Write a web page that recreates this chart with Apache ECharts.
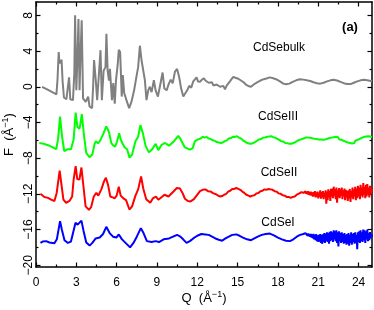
<!DOCTYPE html>
<html><head><meta charset="utf-8">
<script src="https://cdn.jsdelivr.net/npm/echarts@6/dist/echarts.min.js"></script>
<style>html,body{margin:0;padding:0;background:#fff}#c{width:374px;height:310px}</style>
</head><body><div id="c"></div>
<script>
const xMajorTicks = [0,3,6,9,12,15,18,21,24];
const xMinorTicks = [1.5,4.5,7.5,10.5,13.5,16.5,19.5,22.5];
const yMajorTicks = [-20,-16,-12,-8,-4,0,4,8];
const yMinorTicks = [-18,-14,-10,-6,-2,2,6];
const seriesNames = ['CdSebulk','CdSeIII','CdSeII','CdSeI'];
const seriesColors = ['#808080','#00ff00','#ff0000','#0000ff'];

const cdSeBulk = [[0.45,0.0],[0.9,-0.35],[1.52,-0.85],[1.6,0.8],[1.69,3.9],[1.74,2.6],[1.8,3.0],[1.85,2.6],[1.9,3.05],[1.98,0.6],[2.08,-1.2],[2.26,-1.4],[2.46,1.05],[2.55,-1.4],[2.75,-1.5],[2.85,1.5],[2.91,8.0],[3.0,-0.4],[3.08,3.0],[3.16,7.6],[3.24,-0.4],[3.3,3.0],[3.4,7.45],[3.5,-1.3],[3.7,-1.7],[3.88,-1.1],[3.98,-2.2],[4.17,-2.4],[4.25,0.0],[4.32,3.0],[4.45,0.7],[4.55,-1.5],[4.65,0.7],[4.8,4.1],[4.9,-1.5],[5.03,1.8],[5.17,2.2],[5.24,5.95],[5.33,1.8],[5.43,0.7],[5.5,2.0],[5.65,-1.5],[5.75,0.4],[5.86,-1.9],[5.95,0.7],[6.08,2.5],[6.16,4.15],[6.26,3.9],[6.38,-1.1],[6.46,1.3],[6.56,-0.7],[6.73,-1.5],[6.93,-2.4],[7.1,-1.7],[7.3,-0.4],[7.47,1.1],[7.6,2.2],[7.73,4.6],[7.85,3.0],[7.98,2.8],[8.1,0.75],[8.22,-1.5],[8.35,-0.4],[8.47,0.0],[8.6,-0.6],[8.77,0.75],[8.9,-0.4],[9.07,-1.1],[9.24,0.2],[9.42,1.6],[9.55,-0.2],[9.72,-0.4],[9.85,0.2],[10.02,0.8],[10.17,0.4],[10.34,1.7],[10.5,2.0],[10.65,1.1],[10.8,-0.2],[10.96,-1.1],[11.1,-0.9],[11.25,-0.4],[11.4,0.1],[11.55,-0.1],[11.7,0.6],[11.83,0.75],[11.95,1.05],[12.05,0.6],[12.2,0.56],[12.35,0.8],[12.5,0.95],[12.6,0.7],[12.72,0.85],[12.85,0.45],[12.97,0.37],[13.1,0.5],[13.19,0.15],[13.3,0.3],[13.44,0.25],[13.55,0.35],[13.69,0.0],[13.8,0.2],[13.94,0.1],[14.06,-0.3],[14.2,0.15],[14.3,0.3],[14.43,0.6],[14.55,0.85],[14.68,1.1],[14.8,0.95],[15.05,0.9],[15.25,0.7],[15.45,0.5],[15.65,0.2],[15.85,0.05],[16.0,0.0],[16.2,0.25],[16.45,0.5],[16.7,0.7],[16.95,0.85],[17.2,0.95],[17.4,1.05],[17.65,0.95],[17.9,0.82],[18.15,0.6],[18.4,0.35],[18.6,0.28],[18.85,0.35],[19.1,0.55],[19.4,0.75],[19.65,0.85],[19.9,0.8],[20.15,0.72],[20.4,0.65],[20.65,0.5],[20.9,0.4],[21.15,0.35],[21.4,0.45],[21.65,0.6],[21.9,0.72],[22.15,0.78],[22.4,0.7],[22.65,0.55],[22.9,0.4],[23.15,0.3],[23.4,0.3],[23.65,0.45],[23.9,0.6],[24.15,0.72],[24.4,0.78],[24.65,0.72],[24.9,0.65],[25.0,0.65]];

const cdSeIII = [[0.25,-6.3],[0.6,-6.4],[0.9,-6.55],[1.25,-6.8],[1.5,-7.0],[1.64,-5.9],[1.79,-3.35],[1.94,-5.6],[2.1,-7.2],[2.37,-7.0],[2.6,-7.0],[2.8,-5.9],[2.95,-2.9],[3.08,-4.5],[3.23,-4.7],[3.3,-4.2],[3.41,-3.05],[3.58,-5.6],[3.74,-7.4],[3.98,-7.9],[4.19,-7.6],[4.36,-6.4],[4.46,-6.1],[4.61,-6.35],[4.75,-6.1],[4.86,-5.9],[5.0,-5.3],[5.11,-4.9],[5.22,-4.45],[5.35,-4.8],[5.45,-5.2],[5.6,-6.3],[5.72,-6.55],[5.88,-6.7],[6.02,-6.2],[6.19,-5.2],[6.3,-5.9],[6.42,-6.3],[6.6,-6.8],[6.78,-7.0],[6.96,-7.95],[7.15,-7.6],[7.4,-6.1],[7.6,-5.6],[7.77,-4.3],[7.95,-5.2],[8.15,-6.6],[8.4,-7.35],[8.65,-7.0],[8.9,-6.4],[9.1,-7.1],[9.35,-6.5],[9.6,-6.3],[9.9,-6.6],[10.27,-6.1],[10.58,-5.5],[10.71,-5.75],[10.9,-6.3],[11.08,-6.8],[11.45,-7.05],[11.65,-6.9],[11.83,-6.1],[12.05,-5.9],[12.25,-5.8],[12.4,-5.6],[12.55,-5.7],[12.7,-5.62],[12.85,-5.8],[13.0,-5.85],[13.15,-6.0],[13.3,-6.05],[13.45,-6.2],[13.6,-6.25],[13.75,-6.3],[13.9,-6.25],[14.05,-6.1],[14.2,-6.0],[14.35,-5.8],[14.5,-5.75],[14.65,-5.6],[14.8,-5.62],[14.95,-5.55],[15.1,-5.7],[15.25,-5.8],[15.4,-6.0],[15.55,-6.15],[15.7,-6.3],[15.85,-6.35],[16.0,-6.4],[16.15,-6.3],[16.3,-6.2],[16.45,-6.05],[16.6,-5.9],[16.75,-5.85],[16.9,-5.7],[17.05,-5.68],[17.2,-5.6],[17.35,-5.58],[17.5,-5.55],[17.65,-5.65],[17.8,-5.7],[17.95,-5.85],[18.1,-5.95],[18.25,-6.1],[18.4,-6.15],[18.55,-6.3],[18.7,-6.32],[18.85,-6.4],[19.0,-6.38],[19.15,-6.3],[19.3,-6.2],[19.45,-6.05],[19.6,-5.95],[19.75,-5.88],[19.9,-5.8],[20.0,-5.8],[20.08,-5.7],[20.16,-5.85],[20.24,-5.7],[20.32,-5.82],[20.4,-5.72],[20.48,-5.9],[20.56,-5.78],[20.64,-5.95],[20.72,-5.82],[20.8,-6.0],[20.88,-5.85],[20.96,-6.05],[21.04,-5.9],[21.12,-6.1],[21.2,-5.92],[21.28,-6.12],[21.36,-5.95],[21.44,-6.15],[21.52,-5.9],[21.6,-6.05],[21.68,-5.82],[21.76,-6.0],[21.84,-5.75],[21.92,-5.95],[22.0,-5.7],[22.08,-5.9],[22.16,-5.65],[22.24,-5.85],[22.32,-5.6],[22.4,-5.82],[22.48,-5.65],[22.56,-5.9],[22.64,-5.7],[22.72,-5.95],[22.8,-5.8],[22.88,-6.05],[22.96,-5.9],[23.04,-6.15],[23.12,-6.0],[23.2,-6.25],[23.28,-6.1],[23.36,-6.3],[23.44,-6.15],[23.52,-6.35],[23.6,-6.15],[23.68,-6.3],[23.76,-6.05],[23.84,-6.2],[23.92,-5.95],[24.0,-6.1],[24.08,-5.85],[24.16,-5.95],[24.24,-5.72],[24.32,-5.85],[24.4,-5.62],[24.48,-5.78],[24.56,-5.58],[24.64,-5.72],[24.72,-5.55],[24.8,-5.7],[24.88,-5.58],[24.96,-5.68],[25.0,-5.62]];

const cdSeII = [[0.33,-12.0],[0.62,-12.35],[0.9,-12.45],[1.12,-12.65],[1.37,-12.8],[1.54,-11.9],[1.76,-9.4],[1.88,-10.8],[2.04,-12.65],[2.24,-13.0],[2.49,-12.8],[2.69,-12.3],[2.8,-10.4],[2.95,-8.9],[3.07,-10.35],[3.23,-10.4],[3.38,-9.05],[3.53,-11.15],[3.69,-13.4],[3.94,-13.8],[4.1,-13.5],[4.3,-12.3],[4.49,-11.9],[4.64,-12.2],[4.86,-11.5],[5.06,-10.6],[5.2,-10.2],[5.36,-11.0],[5.53,-12.3],[5.7,-12.4],[5.86,-12.5],[6.0,-12.2],[6.16,-11.2],[6.3,-12.2],[6.5,-12.5],[6.7,-12.7],[6.95,-13.76],[7.15,-13.4],[7.4,-12.2],[7.6,-11.5],[7.82,-10.05],[7.98,-11.4],[8.2,-12.6],[8.5,-13.0],[8.7,-12.5],[8.92,-12.3],[9.1,-12.66],[9.36,-12.36],[9.56,-12.1],[9.86,-12.3],[10.23,-11.73],[10.48,-11.35],[10.71,-11.4],[10.9,-11.9],[11.08,-12.55],[11.3,-12.8],[11.5,-12.85],[11.75,-12.6],[11.95,-12.2],[12.2,-11.7],[12.4,-11.55],[12.6,-11.5],[12.8,-11.7],[13.0,-11.75],[13.2,-11.95],[13.4,-12.05],[13.55,-12.2],[13.7,-12.3],[13.85,-12.25],[14.0,-12.1],[14.15,-12.0],[14.3,-11.75],[14.45,-11.65],[14.6,-11.45],[14.75,-11.45],[14.9,-11.35],[15.05,-11.45],[15.2,-11.55],[15.35,-11.75],[15.5,-11.9],[15.65,-12.1],[15.8,-12.2],[15.95,-12.3],[16.1,-12.2],[16.25,-12.15],[16.4,-11.95],[16.55,-11.9],[16.7,-11.7],[16.85,-11.65],[17.0,-11.5],[17.15,-11.55],[17.3,-11.45],[17.45,-11.5],[17.6,-11.55],[17.75,-11.7],[17.9,-11.75],[18.05,-11.95],[18.2,-12.0],[18.35,-12.15],[18.5,-12.2],[18.65,-12.35],[18.8,-12.35],[18.95,-12.45],[19.1,-12.35],[19.25,-12.3],[19.4,-12.1],[19.5,-12.05],[19.6,-11.95],[19.65,-11.85],[19.7,-11.95],[19.75,-11.8],[19.8,-11.95],[19.85,-11.75],[19.9,-11.9],[19.95,-11.7],[20.0,-11.95],[20.05,-11.7],[20.1,-12.0],[20.15,-11.75],[20.2,-12.05],[20.25,-11.7],[20.3,-12.1],[20.35,-11.8],[20.4,-12.15],[20.45,-11.75],[20.5,-12.2],[20.55,-11.85],[20.6,-12.3],[20.65,-11.8],[20.7,-12.25],[20.75,-11.7],[20.8,-12.4],[20.85,-11.85],[20.9,-12.3],[20.95,-11.75],[21.0,-12.5],[21.05,-11.9],[21.1,-12.35],[21.15,-11.6],[21.2,-12.55],[21.25,-11.8],[21.3,-12.4],[21.35,-11.7],[21.4,-12.6],[21.45,-11.9],[21.5,-12.3],[21.55,-11.6],[21.6,-13.1],[21.65,-11.75],[21.7,-12.7],[21.75,-11.5],[21.8,-12.4],[21.85,-11.7],[21.9,-12.8],[21.95,-11.45],[22.0,-12.3],[22.05,-11.4],[22.1,-12.5],[22.15,-11.2],[22.2,-12.2],[22.25,-11.5],[22.3,-12.6],[22.35,-11.3],[22.4,-13.0],[22.45,-11.6],[22.5,-12.4],[22.55,-11.35],[22.6,-12.5],[22.65,-11.5],[22.7,-12.2],[22.75,-11.3],[22.8,-12.6],[22.85,-11.6],[22.9,-12.3],[22.95,-11.4],[23.0,-12.7],[23.05,-11.55],[23.1,-12.4],[23.15,-11.7],[23.2,-12.8],[23.25,-11.6],[23.3,-12.5],[23.35,-11.45],[23.4,-12.9],[23.45,-11.7],[23.5,-12.4],[23.55,-11.3],[23.6,-12.6],[23.65,-11.5],[23.7,-12.3],[23.75,-11.2],[23.8,-12.7],[23.85,-11.4],[23.9,-12.5],[23.95,-11.1],[24.0,-12.3],[24.05,-11.3],[24.1,-12.6],[24.15,-11.0],[24.2,-12.2],[24.25,-11.3],[24.3,-12.4],[24.35,-10.8],[24.4,-12.1],[24.45,-11.2],[24.5,-12.5],[24.55,-11.0],[24.6,-12.3],[24.65,-10.9],[24.7,-12.0],[24.75,-11.3],[24.8,-12.4],[24.85,-11.1],[24.9,-12.1],[24.95,-11.4],[25.0,-11.8]];

const cdSeI = [[0.33,-17.5],[0.5,-17.35],[0.75,-17.3],[1.0,-17.45],[1.37,-17.55],[1.55,-17.1],[1.79,-15.06],[1.92,-16.0],[2.12,-17.2],[2.37,-17.5],[2.6,-17.35],[2.8,-16.1],[2.94,-15.25],[3.1,-15.45],[3.23,-15.3],[3.38,-15.0],[3.53,-16.1],[3.74,-17.45],[3.99,-17.8],[4.19,-17.5],[4.44,-17.0],[4.74,-16.9],[4.99,-16.5],[5.23,-15.7],[5.48,-16.4],[5.73,-16.8],[5.98,-16.9],[6.16,-16.55],[6.4,-17.1],[6.7,-17.55],[7.0,-18.0],[7.25,-17.5],[7.5,-16.8],[7.8,-15.85],[8.0,-16.4],[8.25,-17.3],[8.6,-17.4],[8.9,-17.3],[9.15,-17.4],[9.5,-17.1],[9.9,-17.0],[10.5,-16.6],[10.71,-16.76],[10.95,-17.1],[11.2,-17.5],[11.45,-17.3],[11.7,-17.0],[12.0,-16.7],[12.3,-16.5],[12.6,-16.55],[12.85,-16.6],[13.1,-16.8],[13.35,-17.0],[13.6,-17.15],[13.85,-17.25],[14.1,-17.0],[14.35,-16.8],[14.6,-16.6],[14.9,-16.55],[15.15,-16.7],[15.4,-16.9],[15.7,-17.1],[16.0,-17.2],[16.25,-17.0],[16.5,-16.8],[16.8,-16.6],[17.1,-16.5],[17.4,-16.45],[17.7,-16.65],[18.0,-16.9],[18.3,-17.1],[18.6,-17.25],[18.9,-17.3],[19.15,-17.1],[19.4,-16.8],[19.65,-16.6],[19.9,-16.5],[20.0,-16.55],[20.05,-16.4],[20.1,-16.6],[20.15,-16.45],[20.2,-16.7],[20.25,-16.45],[20.3,-16.75],[20.35,-16.5],[20.4,-16.8],[20.45,-16.5],[20.5,-16.9],[20.55,-16.55],[20.6,-17.0],[20.65,-16.5],[20.7,-17.1],[20.75,-16.6],[20.8,-17.2],[20.85,-16.5],[20.9,-17.3],[20.95,-16.65],[21.0,-17.4],[21.05,-16.6],[21.1,-17.35],[21.15,-16.5],[21.2,-17.5],[21.25,-16.6],[21.3,-17.6],[21.35,-16.55],[21.4,-17.4],[21.45,-16.4],[21.5,-17.5],[21.55,-16.45],[21.6,-17.3],[21.65,-16.3],[21.7,-17.4],[21.75,-16.4],[21.8,-17.6],[21.85,-16.25],[21.9,-17.3],[21.95,-16.2],[22.0,-17.2],[22.05,-16.3],[22.1,-17.4],[22.15,-16.1],[22.2,-17.1],[22.25,-16.2],[22.3,-17.3],[22.35,-16.1],[22.4,-17.5],[22.45,-16.3],[22.5,-17.9],[22.55,-16.2],[22.6,-17.3],[22.65,-16.4],[22.7,-17.5],[22.75,-16.3],[22.8,-17.4],[22.85,-16.5],[22.9,-17.6],[22.95,-16.4],[23.0,-17.5],[23.05,-16.6],[23.1,-17.7],[23.15,-16.5],[23.2,-17.6],[23.25,-16.4],[23.3,-17.8],[23.35,-16.6],[23.4,-17.5],[23.45,-16.3],[23.5,-17.7],[23.55,-16.5],[23.6,-17.4],[23.65,-16.4],[23.7,-17.6],[23.75,-16.3],[23.8,-17.5],[23.85,-16.6],[23.9,-18.2],[23.95,-16.3],[24.0,-17.4],[24.05,-16.2],[24.1,-17.5],[24.15,-16.1],[24.2,-17.3],[24.25,-16.3],[24.3,-17.4],[24.35,-16.0],[24.4,-17.2],[24.45,-16.1],[24.5,-17.5],[24.55,-16.2],[24.6,-17.1],[24.65,-16.0],[24.7,-17.3],[24.75,-16.4],[24.8,-17.2],[24.85,-16.3],[24.9,-17.0],[24.95,-16.5],[25.0,-16.8]];

const seriesData = [cdSeBulk, cdSeIII, cdSeII, cdSeI];
const FONT = '"Liberation Sans", Arial, Helvetica, sans-serif';
const X_MIN = 0, X_MAX = 25, Y_MIN = -20.2, Y_MAX = 9.5;
const minus = v => String(v).replace('-', '\u2212');

function mkAxis(kind, position, ticks, len, opts) {
  const base = {
    type: 'value', position: position,
    min: kind === 'x' ? X_MIN : Y_MIN, max: kind === 'x' ? X_MAX : Y_MAX,
    splitLine: { show: false },
    axisLine: { show: !!opts.line, onZero: false, lineStyle: { color: '#000', width: 1.5 } },
    axisTick: { show: true, inside: true, length: len, customValues: ticks, lineStyle: { color: '#000', width: 1.2 } },
    axisLabel: { show: false },
    nameMoveOverlap: false
  };
  if (opts.labels) {
    base.axisLabel = {
      show: true, customValues: ticks, color: '#000', fontSize: 12, fontFamily: FONT,
      formatter: minus, margin: opts.margin, rotate: opts.rotate || 0
    };
  }
  if (opts.name) {
    base.name = opts.name;
    base.nameLocation = 'middle';
    base.nameGap = opts.nameGap;
    base.nameTextStyle = {
      color: '#000', fontFamily: FONT, fontSize: 13,
      rich: {
        a: { fontSize: 13, fontFamily: FONT, color: '#000', lineHeight: 16 },
        s: { fontSize: 9, fontFamily: FONT, color: '#000', verticalAlign: 'top', lineHeight: 16 }
      }
    };
  }
  return base;
}

const chart = echarts.init(document.getElementById('c'), null, { renderer: 'canvas' });
chart.setOption({
  animation: false,
  backgroundColor: '#fff',
  grid: { left: 36, right: 2, top: 2, bottom: 43, containLabel: false, outerBoundsMode: 'none' },
  xAxis: [
    mkAxis('x', 'bottom', xMajorTicks, 4.5, { line: true, labels: true, margin: 10, name: '{a|Q  (Å}{s|\u22121}{a|)}', nameGap: 23 }),
    mkAxis('x', 'bottom', xMinorTicks, 2.5, {}),
    mkAxis('x', 'top', xMajorTicks, 4.5, { line: true }),
    mkAxis('x', 'top', xMinorTicks, 2.5, {})
  ],
  yAxis: [
    mkAxis('y', 'left', yMajorTicks, 4.5, { line: true, labels: true, margin: 1, rotate: 90, name: '{a|F  (Å}{s|\u22121}{a|)}', nameGap: 19 }),
    mkAxis('y', 'left', yMinorTicks, 2.5, {}),
    mkAxis('y', 'right', yMajorTicks, 4.5, { line: true }),
    mkAxis('y', 'right', yMinorTicks, 2.5, {})
  ],
  series: seriesData.map((d, i) => ({
    name: seriesNames[i], type: 'line', data: d, xAxisIndex: 0, yAxisIndex: 0,
    showSymbol: false, symbol: 'none', smooth: false, clip: true,
    lineStyle: { color: seriesColors[i], width: 2 }
  })),
  graphic: [
    { type: 'text', x: 279, y: 48, style: { text: 'CdSebulk', textAlign: 'center', textVerticalAlign: 'middle', align: 'center', verticalAlign: 'middle', fontSize: 12, fontFamily: FONT, fill: '#000' } },
    { type: 'text', x: 278, y: 117, style: { text: 'CdSeIII', textAlign: 'center', textVerticalAlign: 'middle', align: 'center', verticalAlign: 'middle', fontSize: 12, fontFamily: FONT, fill: '#000' } },
    { type: 'text', x: 279, y: 173, style: { text: 'CdSeII', textAlign: 'center', textVerticalAlign: 'middle', align: 'center', verticalAlign: 'middle', fontSize: 12, fontFamily: FONT, fill: '#000' } },
    { type: 'text', x: 278, y: 223, style: { text: 'CdSeI', textAlign: 'center', textVerticalAlign: 'middle', align: 'center', verticalAlign: 'middle', fontSize: 12, fontFamily: FONT, fill: '#000' } },
    { type: 'text', x: 350, y: 27, style: { text: '(a)', textAlign: 'center', textVerticalAlign: 'middle', align: 'center', verticalAlign: 'middle', fontSize: 13, fontWeight: 'bold', fontFamily: FONT, fill: '#000' } }
  ]
});
</script></body></html>
